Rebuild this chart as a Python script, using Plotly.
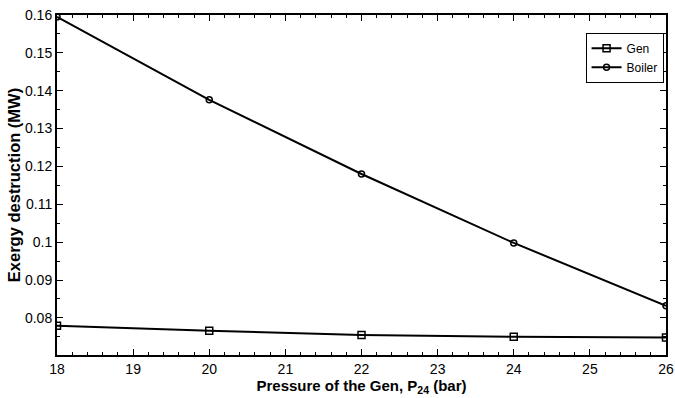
import plotly.graph_objects as go

pressure = [18, 20, 22, 24, 26]
gen = [0.0779, 0.0766, 0.0755, 0.0750, 0.0748]
boiler = [0.1595, 0.1376, 0.1180, 0.0998, 0.0832]
ytick_vals = [0.08, 0.09, 0.10, 0.11, 0.12, 0.13, 0.14, 0.15, 0.16]
ytick_text = ["0.08", "0.09", "0.1", "0.11", "0.12", "0.13", "0.14", "0.15", "0.16"]

fig = go.Figure()
fig.add_trace(go.Scatter(
    x=pressure, y=gen, name="Gen", mode="lines+markers",
    line=dict(color="black", width=2),
    marker=dict(symbol="square-open", size=7, color="black", line=dict(width=1.5)),
))
fig.add_trace(go.Scatter(
    x=pressure, y=boiler, name="Boiler", mode="lines+markers",
    line=dict(color="black", width=2),
    marker=dict(symbol="circle-open", size=6, color="black", line=dict(width=1.5)),
))

font = "Liberation Sans, Arial, sans-serif"
fig.update_layout(
    width=675, height=398,
    margin=dict(l=57, r=9, t=15, b=43),
    plot_bgcolor="white", paper_bgcolor="white",
    font=dict(family=font, size=14, color="black"),
    showlegend=True,
    legend=dict(
        x=0.996, y=0.948, xanchor="right", yanchor="top",
        bgcolor="white", bordercolor="black", borderwidth=1,
        font=dict(size=12), itemwidth=30, tracegroupgap=0,
    ),
)
fig.update_xaxes(
    range=[18, 26], tickvals=list(range(18, 27)),
    showline=True, linecolor="black", linewidth=2, mirror="ticks",
    ticks="inside", ticklen=6, tickwidth=1, tickcolor="black",
    minor=dict(dtick=0.2, ticks="inside", ticklen=3, tickcolor="black", showgrid=False),
    showgrid=False, zeroline=False, automargin=False,
    tickfont=dict(size=14), ticklabeloverflow="allow",
    title=dict(text="<b>Pressure of the Gen, P<sub>24</sub> (bar)</b>", font=dict(size=15), standoff=3),
)
fig.update_yaxes(
    range=[0.0702, 0.16], tickvals=ytick_vals, ticktext=ytick_text,
    showline=True, linecolor="black", linewidth=2, mirror="ticks",
    ticks="inside", ticklen=6, tickwidth=1, tickcolor="black",
    minor=dict(dtick=0.005, tick0=0.08, ticks="inside", ticklen=3, tickcolor="black", showgrid=False),
    showgrid=False, zeroline=False, automargin=False,
    tickfont=dict(size=14), ticklabeloverflow="allow",
    title=dict(text="<b>Exergy destruction (MW)</b>", font=dict(size=16.5), standoff=0),
)

fig.write_html(
    "out.html",
    config={"displayModeBar": False},
    post_script="document.body.style.margin='0';document.body.style.overflow='hidden';",
)
